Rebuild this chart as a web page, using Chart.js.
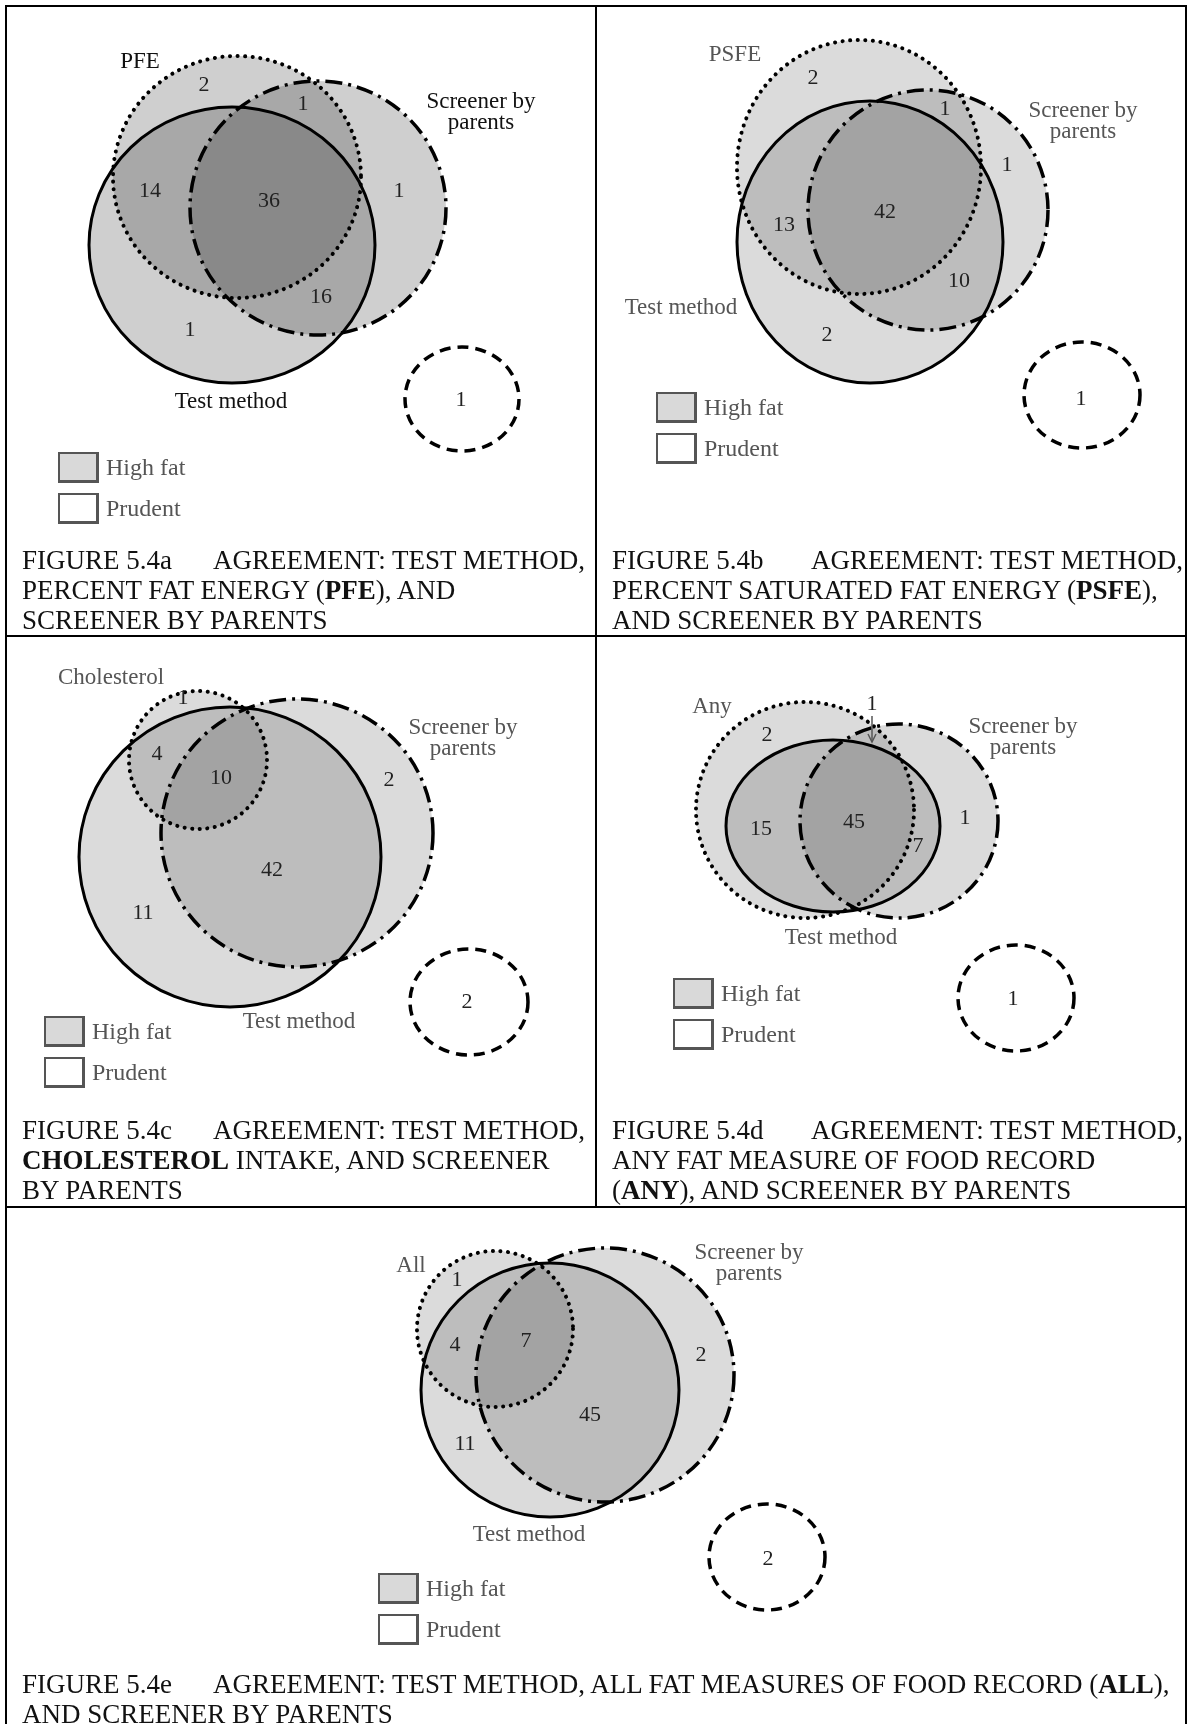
<!DOCTYPE html>
<html>
<head>
<meta charset="utf-8">
<script src="https://cdn.jsdelivr.net/npm/chart.js@4.4.1/dist/chart.umd.min.js"></script>
<style>
  body { margin: 0; background: #fff; }
  #page { position: relative; width: 1189px; height: 1724px; overflow: hidden;
          font-family: "Liberation Serif", "Times New Roman", serif; }
  canvas.venn { position: absolute; }
  .rule { position: absolute; background: #000; z-index: 5; }
  .cap { position: absolute; font-size: 27px; line-height: 30px; color: #111; white-space: nowrap; }
  .cap .fig { display: inline-block; }
  .leg { position: absolute; font-size: 24px; color: #555; }
  .leg div { height: 41px; display: flex; align-items: flex-start; }
  .leg .box { width: 41px; height: 31px; box-sizing: border-box; border: 2px solid #555;
              border-right-width: 3px; border-bottom-width: 3px; margin-right: 7px; }
  .leg span { line-height: 31px; }
</style>
</head>
<body>
<div id="page"></div>
<script>
// counts in each region of the diagrams
const countsA = [2, 1, 14, 36, 1, 16, 1, 1];
const countsB = [2, 1, 1, 42, 13, 10, 2, 1];
const countsC = [1, 4, 10, 2, 42, 11, 2];
const countsD = [1, 2, 15, 45, 7, 1, 1];
const countsE = [1, 4, 7, 2, 45, 11, 2];

const measureNames = ['PFE', 'PSFE', 'Cholesterol', 'Any', 'All'];
const testName = 'Test method';
const screenerName = ['Screener by', 'parents'];
const legendLabels = ['High fat', 'Prudent'];

const captions = [
  ['FIGURE 5.4a', 'AGREEMENT: TEST METHOD,<br>PERCENT FAT ENERGY (<b>PFE</b>), AND<br>SCREENER BY PARENTS'],
  ['FIGURE 5.4b', 'AGREEMENT: TEST METHOD,<br>PERCENT SATURATED FAT ENERGY (<b>PSFE</b>),<br>AND SCREENER BY PARENTS'],
  ['FIGURE 5.4c', 'AGREEMENT: TEST METHOD,<br><b>CHOLESTEROL</b> INTAKE, AND SCREENER<br>BY PARENTS'],
  ['FIGURE 5.4d', 'AGREEMENT: TEST METHOD,<br>ANY FAT MEASURE OF FOOD RECORD<br>(<b>ANY</b>), AND SCREENER BY PARENTS'],
  ['FIGURE 5.4e', 'AGREEMENT: TEST METHOD, ALL FAT MEASURES OF FOOD RECORD (<b>ALL</b>),<br>AND SCREENER BY PARENTS']
];

// layout of each panel, in page units fed to the chart scales
const panels = [
  { box: [6, 6, 596, 636], alpha: 0.19, counts: countsA, nameColor: '#111',
    countPos: [[204, 85], [303, 104], [150, 191], [269, 201], [399, 191], [321, 297], [190, 330], [461, 400]],
    rings: [
      { c: [237, 177], r: [124, 121], style: 'dot', fill: true },
      { c: [232, 245], r: [143, 138], style: 'solid', fill: true },
      { c: [318, 208], r: [128, 127], style: 'dashdot', fill: true },
      { c: [462, 399], r: [57, 52], style: 'dash', fill: false }],
    measurePos: [140, 62], screenerPos: [481, 102], testPos: [231, 402],
    legend: [58, 452], cap: [22, 545, 191] },
  { box: [596, 6, 1188, 636], alpha: 0.14, counts: countsB, nameColor: '#555',
    countPos: [[813, 78], [945, 109], [1007, 165], [885, 212], [784, 225], [959, 281], [827, 335], [1081, 399]],
    rings: [
      { c: [859, 167], r: [122, 127], style: 'dot', fill: true },
      { c: [870, 242], r: [133, 141], style: 'solid', fill: true },
      { c: [928, 210], r: [120, 120], style: 'dashdot', fill: true },
      { c: [1082, 395], r: [58, 53], style: 'dash', fill: false }],
    measurePos: [735, 55], screenerPos: [1083, 111], testPos: [681, 308],
    legend: [656, 392], cap: [612, 545, 199] },
  { box: [6, 636, 596, 1207], alpha: 0.14, counts: countsC, nameColor: '#555',
    countPos: [[183, 698], [157, 754], [221, 778], [389, 780], [272, 870], [143, 913], [467, 1002]],
    rings: [
      { c: [198, 760], r: [69, 69], style: 'dot', fill: true },
      { c: [230, 857], r: [151, 150], style: 'solid', fill: true },
      { c: [297, 833], r: [136, 134], style: 'dashdot', fill: true },
      { c: [469, 1002], r: [59, 53], style: 'dash', fill: false }],
    measurePos: [111, 678], screenerPos: [463, 728], testPos: [299, 1022],
    legend: [44, 1016], cap: [22, 1115, 191] },
  { box: [596, 636, 1188, 1207], alpha: 0.14, counts: countsD, nameColor: '#555',
    countPos: [[872, 704], [767, 735], [761, 829], [854, 822], [918, 846], [965, 818], [1013, 999]],
    rings: [
      { c: [805, 810], r: [109, 108], style: 'dot', fill: true },
      { c: [833, 826], r: [107, 86], style: 'solid', fill: true },
      { c: [899, 821], r: [99, 97], style: 'dashdot', fill: true },
      { c: [1016, 998], r: [58, 53], style: 'dash', fill: false }],
    measurePos: [712, 707], screenerPos: [1023, 727], testPos: [841, 938],
    arrow: [[872, 716], [872, 742]],
    legend: [673, 978], cap: [612, 1115, 199] },
  { box: [6, 1207, 1188, 1724], alpha: 0.14, counts: countsE, nameColor: '#555',
    countPos: [[457, 1280], [455, 1345], [526, 1341], [701, 1355], [590, 1415], [465, 1444], [768, 1559]],
    rings: [
      { c: [495, 1329], r: [78, 78], style: 'dot', fill: true },
      { c: [550, 1390], r: [129, 127], style: 'solid', fill: true },
      { c: [605, 1375], r: [129, 127], style: 'dashdot', fill: true },
      { c: [767, 1557], r: [58, 53], style: 'dash', fill: false }],
    measurePos: [411, 1266], screenerPos: [749, 1253], testPos: [529, 1535],
    legend: [378, 1573], cap: [22, 1669, 191] }
];

const page = document.getElementById('page');

function ringPath(ctx, xs, ys, ring) {
  const x = xs.getPixelForValue(ring.c[0]);
  const y = ys.getPixelForValue(ring.c[1]);
  const rx = Math.abs(xs.getPixelForValue(ring.c[0] + ring.r[0]) - x);
  const ry = Math.abs(ys.getPixelForValue(ring.c[1] + ring.r[1]) - y);
  ctx.beginPath();
  ctx.ellipse(x, y, rx, ry, 0, 0, Math.PI * 2);
}

function setStroke(ctx, style) {
  ctx.strokeStyle = '#000';
  ctx.lineCap = 'butt';
  if (style === 'dot') { ctx.lineWidth = 4; ctx.lineCap = 'round'; ctx.setLineDash([0.1, 7.5]); }
  else if (style === 'solid') { ctx.lineWidth = 3; ctx.setLineDash([]); }
  else if (style === 'dashdot') { ctx.lineWidth = 3.5; ctx.setLineDash([17, 6, 3, 6]); }
  else { ctx.lineWidth = 3.5; ctx.setLineDash([11, 7]); }
}

const vennPlugin = {
  id: 'venn',
  beforeDatasetsDraw(chart) {
    const p = chart.config.options.panel;
    const ctx = chart.ctx, xs = chart.scales.x, ys = chart.scales.y;
    ctx.save();
    p.rings.forEach(ring => {
      if (!ring.fill) return;
      ringPath(ctx, xs, ys, ring);
      ctx.fillStyle = 'rgba(0,0,0,' + p.alpha + ')';
      ctx.fill();
    });
    p.rings.forEach(ring => {
      setStroke(ctx, ring.style);
      ringPath(ctx, xs, ys, ring);
      ctx.stroke();
    });
    ctx.restore();
  },
  afterDatasetsDraw(chart) {
    const p = chart.config.options.panel;
    const ctx = chart.ctx, xs = chart.scales.x, ys = chart.scales.y;
    ctx.save();
    ctx.textAlign = 'center';
    ctx.textBaseline = 'middle';
    ctx.font = '22px "Liberation Serif", serif';
    ctx.fillStyle = '#222';
    chart.getDatasetMeta(0).data.forEach((pt, i) => {
      ctx.fillText(String(p.counts[i]), pt.x, pt.y);
    });
    ctx.font = '23px "Liberation Serif", serif';
    ctx.fillStyle = p.nameColor;
    const put = (txt, pos, dy) => ctx.fillText(txt, xs.getPixelForValue(pos[0]), ys.getPixelForValue(pos[1] + (dy || 0)));
    put(p.measureName, p.measurePos);
    put(screenerName[0], p.screenerPos);
    put(screenerName[1], p.screenerPos, 21);
    put(testName, p.testPos);
    if (p.arrow) {
      const x0 = xs.getPixelForValue(p.arrow[0][0]), y0 = ys.getPixelForValue(p.arrow[0][1]);
      const x1 = xs.getPixelForValue(p.arrow[1][0]), y1 = ys.getPixelForValue(p.arrow[1][1]);
      ctx.strokeStyle = '#555';
      ctx.lineWidth = 1.5;
      ctx.beginPath(); ctx.moveTo(x0, y0); ctx.lineTo(x1, y1); ctx.stroke();
      ctx.beginPath(); ctx.moveTo(x1 - 4, y1 - 8); ctx.lineTo(x1, y1); ctx.lineTo(x1 + 4, y1 - 8); ctx.stroke();
    }
    ctx.restore();
  }
};

panels.forEach((p, k) => {
  p.measureName = measureNames[k];
  const [x0, y0, x1, y1] = p.box;
  const cv = document.createElement('canvas');
  cv.className = 'venn';
  cv.width = x1 - x0; cv.height = y1 - y0;
  cv.style.left = x0 + 'px'; cv.style.top = y0 + 'px';
  cv.style.width = (x1 - x0) + 'px'; cv.style.height = (y1 - y0) + 'px';
  page.appendChild(cv);
  new Chart(cv, {
    type: 'scatter',
    data: { datasets: [{ data: p.countPos.map(([x, y]) => ({ x, y })), pointRadius: 0, borderWidth: 0 }] },
    options: {
      panel: p,
      responsive: false, animation: false, events: [],
      layout: { padding: 0, autoPadding: false },
      plugins: { legend: { display: false }, tooltip: { enabled: false } },
      scales: {
        x: { type: 'linear', display: false, min: x0, max: x1 },
        y: { type: 'linear', display: false, min: y0, max: y1, reverse: true }
      }
    },
    plugins: [vennPlugin]
  });

  const leg = document.createElement('div');
  leg.className = 'leg';
  leg.style.left = p.legend[0] + 'px';
  leg.style.top = p.legend[1] + 'px';
  leg.innerHTML = legendLabels.map((t, i) =>
    '<div><span class="box" style="background:' + (i === 0 ? '#d9d9d9' : '#fff') + '"></span><span>' + t + '</span></div>').join('');
  page.appendChild(leg);

  const cap = document.createElement('div');
  cap.className = 'cap';
  cap.style.left = p.cap[0] + 'px';
  cap.style.top = p.cap[1] + 'px';
  cap.innerHTML = '<span class="fig" style="width:' + p.cap[2] + 'px">' + captions[k][0] + '</span>' + captions[k][1];
  page.appendChild(cap);
});

// frame rules
[[5, 5, 1182, 2], [5, 5, 2, 1719], [1185, 5, 2, 1719], [595, 5, 2, 1202], [5, 635, 1182, 2], [5, 1206, 1182, 2]]
  .forEach(([l, t, w, h]) => {
    const d = document.createElement('div');
    d.className = 'rule';
    d.style.cssText = 'left:' + l + 'px;top:' + t + 'px;width:' + w + 'px;height:' + h + 'px';
    page.appendChild(d);
  });
</script>
</body>
</html>
